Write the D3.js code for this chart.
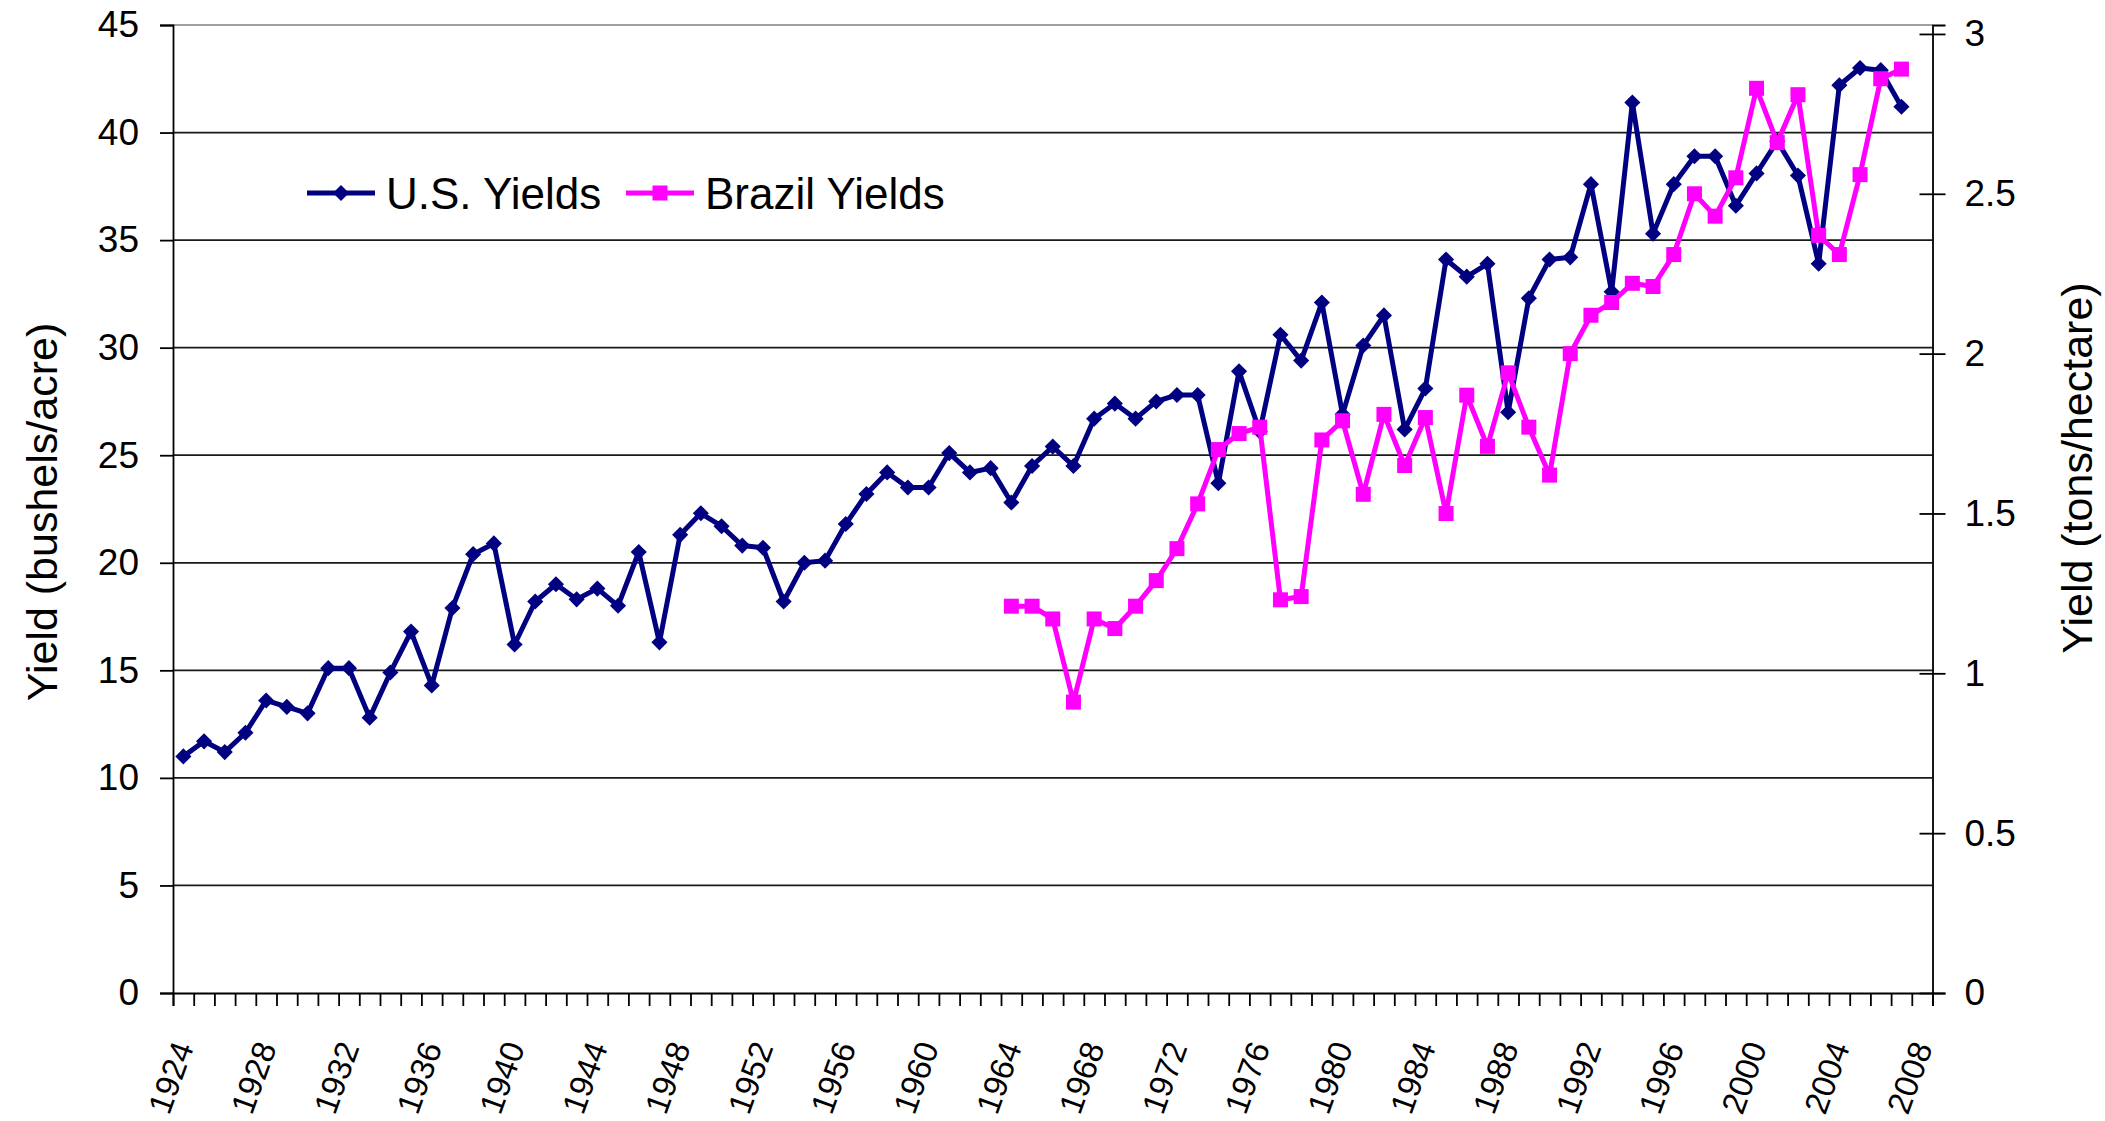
<!DOCTYPE html>
<html>
<head>
<meta charset="utf-8">
<script src="https://cdn.jsdelivr.net/npm/d3@7"></script>
<style>
  html, body { margin: 0; padding: 0; background: #fff; }
  text { font-family: Arial, "Liberation Sans", sans-serif; fill: #000; }
</style>
</head>
<body>
<svg id="chart" width="2105" height="1121"></svg>
<script>
// categories: 1924..2008 on the x axis
const years = d3.range(1924, 2009)
const labelYears = d3.range(1924, 2009, 4)

// U.S. yields, bushels/acre, 1924-2007
const usYears = d3.range(1924, 2008)
const usYields = [
  11.0, 11.7, 11.2, 12.1, 13.6, 13.3, 13.0, 15.1, 15.1, 12.8,
  14.9, 16.8, 14.3, 17.9, 20.4, 20.9, 16.2, 18.2, 19.0, 18.3,
  18.8, 18.0, 20.5, 16.3, 21.3, 22.3, 21.7, 20.8, 20.7, 18.2,
  20.0, 20.1, 21.8, 23.2, 24.2, 23.5, 23.5, 25.1, 24.2, 24.4,
  22.8, 24.5, 25.4, 24.5, 26.7, 27.4, 26.7, 27.5, 27.8, 27.8,
  23.7, 28.9, 26.1, 30.6, 29.4, 32.1, 26.9, 30.1, 31.5, 26.2,
  28.1, 34.1, 33.3, 33.9, 27.0, 32.3, 34.1, 34.2, 37.6, 32.6,
  41.4, 35.3, 37.6, 38.9, 38.9, 36.6, 38.1, 39.6, 38.0, 33.9,
  42.2, 43.0, 42.9, 41.2
]

// Brazil yields, tons/hectare, 1964-2007
const brYears = d3.range(1964, 2008)
const brYields = [
  1.21, 1.21, 1.17, 0.91, 1.17, 1.14, 1.21, 1.29, 1.39, 1.53,
  1.70, 1.75, 1.77, 1.23, 1.24, 1.73, 1.79, 1.56, 1.81, 1.65,
  1.80, 1.50, 1.87, 1.71, 1.94, 1.77, 1.62, 2.00, 2.12, 2.16,
  2.22, 2.21, 2.31, 2.50, 2.43, 2.55, 2.83, 2.66, 2.81, 2.37,
  2.31, 2.56, 2.86, 2.89
]

const leftTicks = d3.range(0, 46, 5)
const rightTicks = [0, 0.5, 1, 1.5, 2, 2.5, 3]

const plotL = 173, plotR = 1932.5, plotT = 25, plotB = 993
const usColor = '#000080', brColor = '#ff00ff'

const svg = d3.select('#chart')

const x = d3.scaleBand().domain(years).range([plotL, plotR]).paddingInner(0).paddingOuter(0)
const xEdge = d3.scaleLinear().domain([1924, 2009]).range([plotL, plotR])
const yL = d3.scaleLinear().domain([0, 45]).range([plotB, plotT])
const yR = d3.scaleLinear().domain([0, 3.028]).range([plotB, plotT])
const cx = yr => x(yr) + x.bandwidth() / 2

// gridlines
svg.append('g').selectAll('line')
  .data(leftTicks.filter(d => d > 0))
  .join('line')
  .attr('x1', plotL).attr('x2', plotR)
  .attr('y1', d => yL(d)).attr('y2', d => yL(d))
  .attr('stroke', d => d === 45 ? '#a0a0a0' : '#1a1a1a')
  .attr('stroke-width', 1.8)

// left axis
const gL = svg.append('g').attr('transform', `translate(${plotL},0)`)
  .call(d3.axisLeft(yL).tickValues(leftTicks).tickSize(13).tickPadding(21))
gL.select('.domain').attr('stroke', '#000').attr('stroke-width', 1.8)
gL.selectAll('.tick line').attr('stroke', '#000').attr('stroke-width', 1.8)
gL.selectAll('text').attr('font-size', 37).attr('font-family', 'Arial, "Liberation Sans", sans-serif')

// right axis, ticks cross the line
const gR = svg.append('g').attr('transform', `translate(${plotR},0)`)
  .call(d3.axisRight(yR).tickValues(rightTicks).tickSize(13).tickPadding(19).tickFormat(d3.format('')))
gR.select('.domain').attr('stroke', '#000').attr('stroke-width', 1.8)
gR.selectAll('.tick line').attr('x1', -13).attr('stroke', '#000').attr('stroke-width', 1.8)
gR.selectAll('text').attr('font-size', 37).attr('font-family', 'Arial, "Liberation Sans", sans-serif')

// bottom axis: tick at every category edge
const gB = svg.append('g').attr('transform', `translate(0,${plotB})`)
  .call(d3.axisBottom(xEdge).tickValues(d3.range(1924, 2010)).tickSize(13).tickFormat(''))
gB.select('.domain').attr('stroke', '#000').attr('stroke-width', 1.8)
gB.selectAll('.tick line').attr('stroke', '#000').attr('stroke-width', 1.8)

// slanted year labels
svg.append('g').selectAll('text')
  .data(labelYears)
  .join('text')
  .attr('transform', d => `translate(${cx(d)},1043) rotate(-70)`)
  .attr('text-anchor', 'end')
  .attr('dominant-baseline', 'central')
  .attr('font-size', 33)
  .text(d => d)

// axis titles
svg.append('text')
  .attr('transform', `translate(57,512) rotate(-90)`)
  .attr('text-anchor', 'middle')
  .attr('font-size', 43)
  .text('Yield (bushels/acre)')

svg.append('text')
  .attr('transform', `translate(2092,468) rotate(-90)`)
  .attr('text-anchor', 'middle')
  .attr('font-size', 43)
  .text('Yield (tons/hectare)')

const diamond = d3.symbol(d3.symbolSquare, 130)
const square = d3.symbol(d3.symbolSquare, 225)

// U.S. series
const usData = usYears.map((yr, i) => ({yr, v: usYields[i]}))
svg.append('path')
  .datum(usData)
  .attr('fill', 'none')
  .attr('stroke', usColor)
  .attr('stroke-width', 5)
  .attr('stroke-linejoin', 'round')
  .attr('d', d3.line().x(d => cx(d.yr)).y(d => yL(d.v)))
svg.append('g').selectAll('path')
  .data(usData)
  .join('path')
  .attr('d', diamond)
  .attr('fill', usColor)
  .attr('transform', d => `translate(${cx(d.yr)},${yL(d.v)}) rotate(45)`)

// Brazil series
const brData = brYears.map((yr, i) => ({yr, v: brYields[i]}))
svg.append('path')
  .datum(brData)
  .attr('fill', 'none')
  .attr('stroke', brColor)
  .attr('stroke-width', 5)
  .attr('stroke-linejoin', 'round')
  .attr('d', d3.line().x(d => cx(d.yr)).y(d => yR(d.v)))
svg.append('g').selectAll('path')
  .data(brData)
  .join('path')
  .attr('d', square)
  .attr('fill', brColor)
  .attr('transform', d => `translate(${cx(d.yr)},${yR(d.v)})`)

// legend
const legend = [
  {name: 'U.S. Yields', color: usColor, sym: diamond, rot: 45, x0: 307},
  {name: 'Brazil Yields', color: brColor, sym: square, rot: 0, x0: 626}
]
const lg = svg.append('g').selectAll('g').data(legend).join('g')
  .attr('transform', d => `translate(${d.x0},193)`)
lg.append('line')
  .attr('x1', 0).attr('x2', 68)
  .attr('stroke', d => d.color).attr('stroke-width', 5)
lg.append('path')
  .attr('d', d => d.sym())
  .attr('fill', d => d.color)
  .attr('transform', d => `translate(34,0) rotate(${d.rot})`)
lg.append('text')
  .attr('x', 79).attr('y', 16)
  .attr('font-size', 44)
  .text(d => d.name)
</script>
</body>
</html>
